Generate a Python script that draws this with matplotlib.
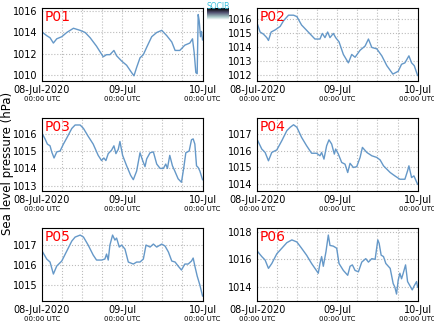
import numpy as np
import pandas as pd
import matplotlib
matplotlib.use('Agg')
import matplotlib.pyplot as plt
import matplotlib.dates as mdates

# Estaciones y series (horas desde 08-Jul-2020 00:00 UTC, presion en hPa)
stations = ['P01', 'P02', 'P03', 'P04', 'P05', 'P06']

h_p01 = [0.2, 1.4, 2.4, 3.4, 4.4, 5.9, 7.4, 9.4, 11.4, 12.9, 14.4, 16.3, 18.3, 19.3, 20.3, 21.5,
         22.3, 23.8, 25.3, 26.8, 27.5, 28.3, 29.3, 30.3, 31.3, 32.8, 34.3, 35.8, 37.3, 38.8,
         39.8, 41.2, 42.7, 44.2, 45.0, 45.5, 46.0, 46.4, 46.7, 47.0, 47.4, 47.7, 48.0]
p_p01 = [1014.0, 1013.7, 1013.5, 1013.0, 1013.4, 1013.6, 1014.0, 1014.4, 1014.2, 1014.0, 1013.5,
         1012.7, 1011.7, 1011.9, 1011.9, 1012.3, 1011.8, 1011.3, 1010.9, 1010.2, 1009.9, 1010.7,
         1011.6, 1011.9, 1012.6, 1013.6, 1014.0, 1014.2, 1013.7, 1013.1, 1012.3, 1012.3, 1012.8,
         1013.0, 1013.4, 1012.1, 1010.2, 1010.1, 1015.7, 1015.1, 1013.6, 1014.1, 1013.3]

h_p02 = [0.2, 0.9, 1.9, 2.9, 3.4, 4.2, 5.4, 6.9, 7.9, 9.4, 10.9, 11.9, 13.3, 15.3, 17.3, 18.8,
         19.5, 20.3, 21.1, 21.8, 22.8, 23.5, 24.5, 25.8, 27.3, 28.3, 29.3, 30.8, 32.3, 33.3,
         34.3, 35.8, 37.3, 38.8, 40.6, 42.2, 43.2, 44.2, 45.4, 46.2, 47.0, 48.0]
p_p02 = [1015.6, 1015.1, 1014.95, 1014.7, 1014.5, 1015.1, 1015.25, 1015.5, 1015.9, 1016.3, 1016.3,
         1016.2, 1015.6, 1015.1, 1014.6, 1014.6, 1015.0, 1014.7, 1015.1, 1014.7, 1015.0, 1014.7,
         1014.4, 1013.5, 1012.9, 1013.5, 1013.3, 1013.8, 1014.1, 1014.6, 1014.0, 1013.9, 1013.4,
         1012.7, 1012.1, 1012.3, 1012.8, 1012.9, 1013.4, 1012.9, 1012.7, 1012.0]

h_p03 = [0.2, 0.9, 1.6, 2.4, 2.9, 3.6, 4.4, 5.4, 6.4, 7.4, 8.9, 9.9, 11.4, 12.4, 13.8, 15.3,
         16.8, 17.8, 18.5, 19.1, 19.8, 20.8, 21.5, 22.1, 22.8, 23.3, 24.1, 25.3, 26.5, 27.3,
         28.3, 29.3, 30.1, 30.8, 31.3, 32.3, 33.3, 34.3, 35.3, 36.3, 37.0, 37.5, 38.2, 39.0,
         39.7, 40.7, 41.7, 42.4, 43.0, 44.0, 44.7, 45.2, 45.7, 46.2, 46.7, 47.2, 48.0]
p_p03 = [1015.95, 1015.7, 1015.4, 1015.3, 1014.95, 1014.6, 1014.95, 1015.0, 1015.4, 1015.75,
         1016.3, 1016.5, 1016.5, 1016.3, 1015.85, 1015.4, 1014.75, 1014.45, 1014.6, 1014.45,
         1014.85, 1015.05, 1015.3, 1014.85, 1015.1, 1015.55, 1014.75, 1014.15, 1013.6, 1013.35,
         1013.85, 1014.9, 1014.45, 1014.1, 1014.55, 1014.9, 1014.95, 1014.25, 1014.0, 1014.0,
         1014.25, 1014.0, 1014.75, 1014.15, 1013.85, 1013.4, 1013.2, 1014.05, 1014.9, 1015.0,
         1015.65, 1015.7, 1015.4, 1014.15, 1014.05, 1013.85, 1013.35]

h_p04 = [0.2, 1.4, 2.4, 3.4, 4.4, 5.9, 7.4, 8.9, 9.9, 10.9, 11.9, 13.3, 14.8, 16.3, 17.8, 18.8,
         19.3, 20.0, 20.8, 21.5, 22.3, 23.1, 23.5, 24.3, 25.3, 26.3, 27.1, 27.8, 28.8, 29.8,
         30.8, 31.5, 32.8, 34.3, 35.8, 36.8, 37.8, 38.8, 39.8, 41.2, 42.7, 44.2, 45.0, 45.4,
         46.2, 46.9, 48.0]
p_p04 = [1016.6, 1016.1, 1015.9, 1015.4, 1015.9, 1016.05, 1016.6, 1017.2, 1017.4, 1017.55,
         1017.4, 1016.8, 1016.3, 1015.85, 1015.85, 1015.7, 1015.9, 1015.5, 1016.3, 1016.65,
         1016.4, 1015.8, 1016.1, 1015.8, 1015.3, 1015.2, 1014.7, 1015.25, 1015.0, 1015.05,
         1015.6, 1016.2, 1015.9, 1015.7, 1015.6, 1015.45, 1015.1, 1014.9, 1014.7, 1014.5,
         1014.3, 1014.3, 1014.8, 1015.1, 1014.4, 1014.5, 1014.0]

h_p05 = [0.2, 1.4, 2.4, 3.4, 4.4, 5.9, 7.4, 8.9, 9.9, 11.4, 12.4, 13.8, 15.3, 16.3, 17.8, 18.8,
         19.3, 19.8, 20.3, 21.1, 21.8, 22.3, 23.1, 23.8, 24.8, 25.8, 27.3, 28.3, 29.3, 30.3,
         31.1, 32.3, 33.3, 34.3, 35.8, 36.8, 37.8, 38.8, 39.8, 40.7, 41.7, 42.7, 43.7, 44.7,
         45.2, 45.7, 46.4, 47.2, 48.0]
p_p05 = [1016.65, 1016.3, 1016.15, 1015.55, 1015.95, 1016.2, 1016.7, 1017.2, 1017.4, 1017.5,
         1017.4, 1017.0, 1016.5, 1016.25, 1016.25, 1016.3, 1016.55, 1016.25, 1017.0, 1017.5,
         1017.25, 1017.35, 1016.9, 1017.0, 1016.8, 1016.15, 1016.05, 1016.15, 1016.15, 1016.3,
         1017.0, 1016.9, 1017.05, 1016.9, 1017.05, 1016.95, 1016.65, 1016.2, 1016.15, 1015.95,
         1015.75, 1016.05, 1016.05, 1016.2, 1016.35, 1015.95, 1015.45, 1015.0, 1014.45]

h_p06 = [0.2, 1.4, 2.4, 3.4, 4.4, 5.9, 7.4, 8.9, 10.4, 11.9, 13.3, 14.8, 16.3, 17.3, 18.3, 18.8,
         19.3, 19.8, 20.6, 21.3, 21.8, 22.8, 23.8, 24.5, 25.8, 27.1, 27.8, 28.5, 29.3, 30.3,
         31.3, 32.5, 33.3, 34.3, 35.3, 36.1, 36.5, 37.1, 37.8, 38.5, 39.8, 40.7, 41.2, 41.7,
         42.2, 42.7, 43.2, 43.7, 44.4, 45.0, 45.7, 46.4, 47.0, 47.7, 48.0]
p_p06 = [1016.55, 1016.2, 1015.95, 1015.35, 1015.7, 1016.4, 1016.8, 1017.2, 1017.4, 1017.25,
         1016.8, 1016.3, 1015.7, 1015.35, 1015.0, 1015.7, 1016.2, 1015.5, 1016.55, 1017.75,
         1017.0, 1016.95, 1016.8, 1015.7, 1015.2, 1014.85, 1015.5, 1015.6, 1015.2, 1015.1,
         1015.8, 1016.05, 1015.8, 1016.05, 1016.0, 1017.4, 1017.15, 1016.3, 1016.2, 1015.7,
         1015.35, 1014.25, 1014.0, 1013.5, 1014.5, 1015.0, 1014.6, 1015.0, 1015.6, 1014.4,
         1014.1, 1013.8, 1014.1, 1014.4, 1014.0]

hours = [h_p01, h_p02, h_p03, h_p04, h_p05, h_p06]
pressures = [p_p01, p_p02, p_p03, p_p04, p_p05, p_p06]
ylims = [(1009.4, 1016.3), (1011.6, 1016.8), (1012.7, 1016.9),
         (1013.6, 1017.95), (1014.2, 1017.85), (1013.0, 1018.25)]
yticks = [[1010, 1012, 1014, 1016], [1012, 1013, 1014, 1015, 1016], [1013, 1014, 1015, 1016],
          [1014, 1015, 1016, 1017], [1015, 1016, 1017], [1014, 1016, 1018]]

date_labels = ['08-Jul-2020', '09-Jul', '10-Jul']
t0 = pd.Timestamp('2020-07-08 00:00')
tick_dates = [t0 + pd.Timedelta(days=i) for i in range(3)]

fig = plt.figure(figsize=(4.35, 3.27), dpi=100)

lefts = [0.0966, 0.591]
bottoms = [0.752, 0.416, 0.0795]
w = 0.369
h = 0.223

for i, st in enumerate(stations):
    ax = fig.add_axes([lefts[i % 2], bottoms[i // 2], w, h])
    t = t0 + pd.to_timedelta(hours[i], unit='h')
    ax.plot(t, pressures[i], color='#6598c8', lw=1.0)
    ax.set_xlim(t0, t0 + pd.Timedelta(hours=48))
    ax.set_ylim(*ylims[i])
    ax.set_yticks(yticks[i])
    ax.tick_params(axis='y', labelsize=7, length=0, pad=3)
    ax.xaxis.set_major_locator(mdates.HourLocator(byhour=[0]))
    ax.xaxis.set_minor_locator(mdates.HourLocator(byhour=[6, 12, 18]))
    ax.set_xticklabels([])
    ax.tick_params(axis='x', which='both', length=0)
    ax.grid(True, which='both', axis='x', color='#bbbbbb', linestyle=':', lw=0.8)
    ax.grid(True, which='major', axis='y', color='#bbbbbb', linestyle=':', lw=0.8)
    for sp in ax.spines.values():
        sp.set_linewidth(0.8)
    ax.text(0.015, 0.97, st, transform=ax.transAxes, color='red', fontsize=10,
            va='top', ha='left')
    trans = ax.get_xaxis_transform()
    for d, lab in zip(tick_dates, date_labels):
        ax.text(d, -0.06, lab, transform=trans, ha='center', va='top', fontsize=7,
                clip_on=False)
        ax.text(d, -0.21, '00:00 UTC', transform=trans, ha='center', va='top',
                fontsize=5, clip_on=False)

fig.text(0.018, 0.5, 'Sea level pressure (hPa)', rotation=90, va='center', ha='center',
         fontsize=8.5)

# Logo SOCIB
fig.text(0.502, 0.995, 'SOCIB', color='#3cc0dc', fontsize=5.5, ha='center', va='top')
lax = fig.add_axes([0.477, 0.94, 0.05, 0.035])
grad = np.linspace(0.3, 0.8, 20).reshape(-1, 1)
lax.imshow(grad, aspect='auto', cmap='bone', extent=[0, 1, 0, 1])
lax.axis('off')

fig.savefig('out.png', dpi=100)
